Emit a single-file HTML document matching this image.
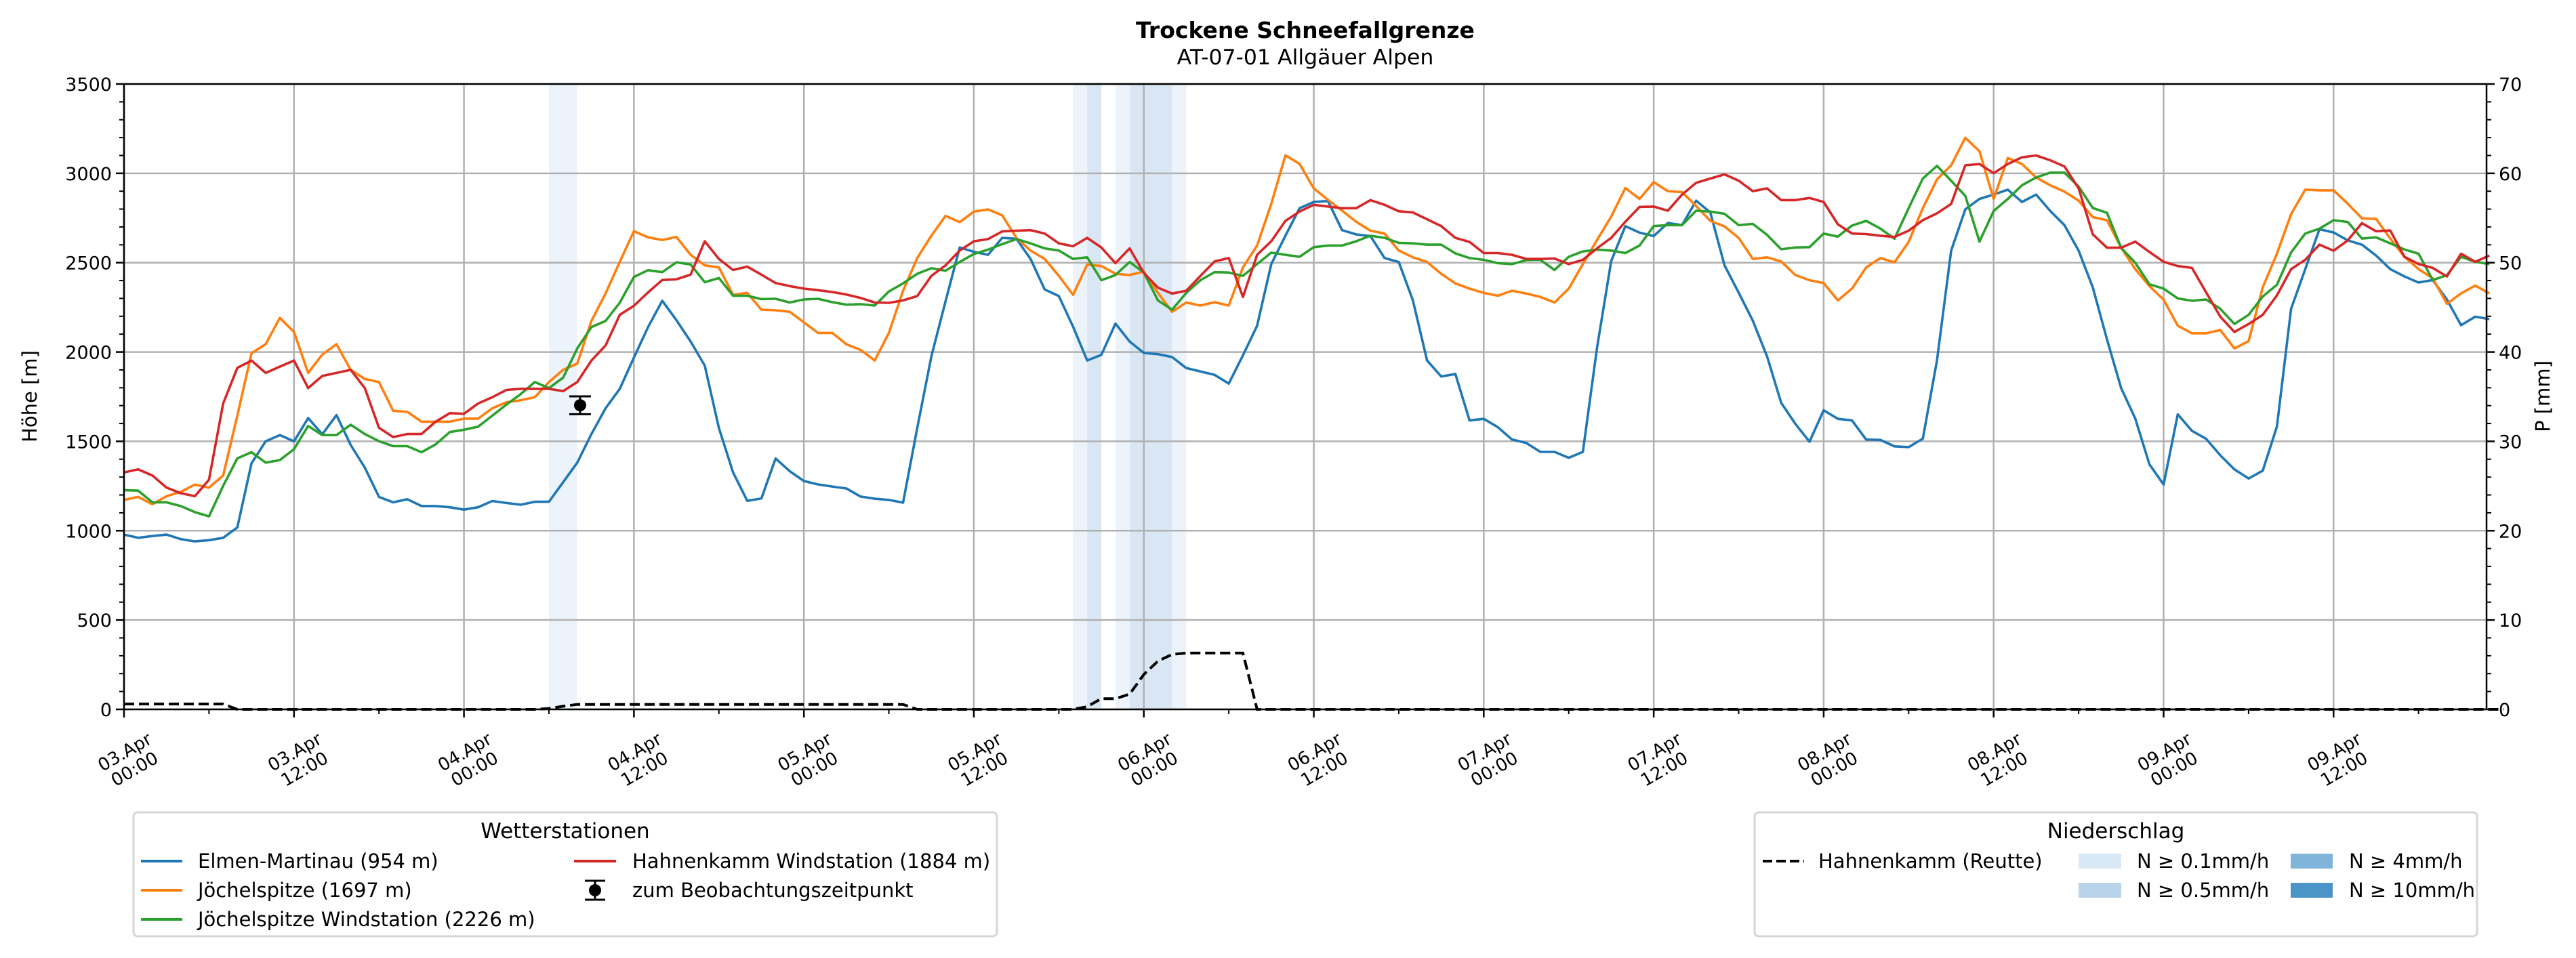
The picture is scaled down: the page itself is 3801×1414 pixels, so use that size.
<!DOCTYPE html>
<html><head><meta charset="utf-8"><style>
body{margin:0;background:#fff}
svg{display:block;font-family:"DejaVu Sans","Liberation Sans",sans-serif}
</style></head><body>
<svg id="chart" width="3801" height="1414" viewBox="0 0 3801 1414" xmlns="http://www.w3.org/2000/svg">
<text x="1926" y="56" text-anchor="middle" font-size="33" font-weight="bold">Trockene Schneefallgrenze</text>
<text x="1926" y="95" text-anchor="middle" font-size="31.5">AT-07-01 Allgäuer Alpen</text>
<g id="bands"></g>
<g id="grid"></g>
<g id="series"></g>
<g id="axes"></g>
<text transform="translate(54,585) rotate(-90)" text-anchor="middle" font-size="29">Höhe [m]</text>
<text transform="translate(3762,585) rotate(-90)" text-anchor="middle" font-size="29">P [mm]</text>

<g>
<rect x="197" y="1199" width="1274" height="183" rx="6" fill="#fff" stroke="#d6d6d6" stroke-width="3"/>
<text x="834" y="1237" text-anchor="middle" font-size="31">Wetterstationen</text>
<g><line x1="208" y1="1271" x2="269" y2="1271" stroke="#1f77b4" stroke-width="4"/><text x="292" y="1281" font-size="29">Elmen-Martinau (954 m)</text></g>
<g><line x1="208" y1="1314" x2="269" y2="1314" stroke="#ff7f0e" stroke-width="4"/><text x="292" y="1324" font-size="29">Jöchelspitze (1697 m)</text></g>
<g><line x1="208" y1="1357" x2="269" y2="1357" stroke="#2ca02c" stroke-width="4"/><text x="292" y="1367" font-size="29">Jöchelspitze Windstation (2226 m)</text></g>
<g><line x1="847" y1="1271" x2="909" y2="1271" stroke="#d62728" stroke-width="4"/><text x="933" y="1281" font-size="29">Hahnenkamm Windstation (1884 m)</text></g>
<g><line x1="878" y1="1300" x2="878" y2="1328" stroke="#000" stroke-width="3"/><line x1="863" y1="1300" x2="893" y2="1300" stroke="#000" stroke-width="3"/><line x1="863" y1="1328" x2="893" y2="1328" stroke="#000" stroke-width="3"/><circle cx="878" cy="1314" r="9"/><text x="933" y="1324" font-size="29">zum Beobachtungszeitpunkt</text></g>
</g>

<g>
<rect x="2589" y="1199" width="1066" height="183" rx="6" fill="#fff" stroke="#d6d6d6" stroke-width="3"/>
<text x="3122" y="1237" text-anchor="middle" font-size="31">Niederschlag</text>
<g><line x1="2601" y1="1271" x2="2662" y2="1271" stroke="#000" stroke-width="4" stroke-dasharray="14,6"/><text x="2683" y="1281" font-size="29">Hahnenkamm (Reutte)</text></g>
<g><rect x="3067" y="1260" width="63" height="22" fill="#d9e8f5"/><text x="3153" y="1281" font-size="29">N ≥ 0.1mm/h</text></g>
<g><rect x="3067" y="1303" width="63" height="22" fill="#b8d3ea"/><text x="3153" y="1324" font-size="29">N ≥ 0.5mm/h</text></g>
<g><rect x="3380" y="1260" width="62" height="22" fill="#80b5d9"/><text x="3466" y="1281" font-size="29">N ≥ 4mm/h</text></g>
<g><rect x="3380" y="1303" width="62" height="22" fill="#4a94c8"/><text x="3466" y="1324" font-size="29">N ≥ 10mm/h</text></g>
</g>
</svg>
<script>
const elmen=[978,960,970,978,953,940,947,960,1018,1377,1500,1535,1500,1630,1540,1647,1480,1353,1189,1159,1176,1138,1138,1131,1118,1131,1166,1155,1145,1162,1162,1271,1381,1541,1685,1794,1969,2140,2287,
2178,2059,1924,1574,1326,1167,1181,1404,1333,1278,1259,1247,1236,1191,1179,1172,1157,1574,1976,2284,2585,2561,2544,2639,2634,2521,2350,2313,2142,1953,1984,2159,2059,1995,1988,1972,1910,1891,1872,1823,1981,2147,2492,2651,2805,2840,
2845,2682,2658,2649,2526,2504,2289,1953,1863,1877,1617,1626,1579,1510,1491,1441,1441,1408,1441,2024,2509,2705,2668,2649,2722,2710,2847,2781,2485,2332,2175,1976,1716,1598,1498,1674,1626,1617,1510,1508,1472,1468,1515,1953,
2567,2799,2857,2881,2909,2840,2881,2789,2710,2567,2362,2071,1798,1627,1371,1258,1651,1559,1514,1422,1343,1292,1336,1583,2242,2464,2687,2669,2625,2601,2540,2464,2423,2389,2403,2294,2150,2198,2184];
const joechel=[1172,1189,1148,1193,1217,1258,1241,1309,1644,1993,2044,2191,2112,1883,1986,2044,1900,1849,1832,1671,1665,1610,1610,1610,1627,1627,1685,1719,1730,1747,1832,1900,1935,2174,2328,2505,2676,2642,2627,
2644,2544,2485,2473,2320,2331,2237,2234,2225,2166,2107,2107,2043,2012,1953,2107,2343,2526,2651,2762,2727,2786,2798,2765,2639,2568,2521,2426,2320,2490,2481,2438,2431,2450,2331,2225,2277,2260,2279,2260,2473,2596,2829,3101,3053,2916,
2852,2791,2729,2679,2663,2568,2530,2504,2438,2384,2355,2331,2315,2343,2327,2308,2277,2355,2492,2627,2758,2918,2857,2951,2900,2895,2817,2734,2703,2639,2521,2530,2507,2431,2402,2386,2289,2355,2473,2526,2502,2616,2805,2966,
3045,3199,3124,2857,3086,3052,2977,2933,2898,2847,2755,2738,2584,2464,2369,2293,2147,2105,2105,2123,2020,2061,2362,2550,2772,2909,2905,2905,2830,2748,2745,2635,2533,2464,2413,2270,2328,2372,2328];
const joechelWind=[1227,1224,1159,1159,1138,1104,1080,1251,1405,1439,1381,1395,1456,1586,1535,1535,1593,1541,1501,1473,1473,1439,1483,1552,1565,1582,1644,1706,1764,1832,1798,1856,2020,2140,2174,2276,2420,2458,2447,
2502,2490,2391,2414,2315,2315,2296,2298,2277,2294,2298,2279,2265,2268,2260,2339,2384,2438,2469,2455,2504,2549,2573,2604,2632,2608,2580,2568,2521,2530,2402,2431,2504,2445,2289,2237,2331,2402,2447,2445,2426,2492,2556,2544,2533,2587,
2596,2596,2620,2651,2639,2611,2608,2601,2601,2552,2526,2516,2497,2492,2514,2516,2459,2533,2563,2573,2568,2554,2596,2705,2710,2710,2791,2786,2774,2710,2717,2656,2575,2585,2587,2663,2646,2708,2734,2691,2634,2805,2971,3042,
2959,2874,2618,2789,2857,2933,2977,3004,3004,2926,2806,2779,2584,2499,2379,2355,2300,2287,2294,2242,2157,2208,2311,2376,2557,2663,2690,2738,2728,2635,2642,2608,2574,2550,2403,2430,2533,2505,2492];
const hahnWind=[1326,1343,1309,1241,1210,1193,1285,1712,1911,1952,1883,1918,1952,1798,1866,1883,1900,1798,1576,1524,1541,1541,1610,1658,1654,1712,1747,1788,1794,1794,1794,1781,1832,1952,2037,2208,2259,2334,2403,
2407,2433,2620,2521,2459,2478,2433,2386,2369,2355,2346,2336,2322,2303,2277,2275,2289,2313,2426,2485,2568,2620,2632,2675,2679,2682,2663,2608,2592,2639,2585,2497,2580,2443,2360,2327,2343,2426,2507,2526,2308,2544,2620,2734,2786,2824,
2814,2805,2805,2850,2824,2788,2781,2743,2705,2639,2616,2554,2554,2544,2521,2521,2523,2492,2516,2580,2639,2729,2812,2814,2791,2881,2947,2971,2994,2959,2900,2916,2850,2850,2862,2840,2715,2663,2660,2651,2644,2679,2738,2776,
2829,3045,3052,3001,3052,3090,3100,3073,3039,2916,2659,2584,2584,2618,2560,2505,2481,2471,2334,2198,2112,2157,2208,2317,2464,2516,2601,2567,2625,2721,2676,2680,2533,2492,2471,2423,2550,2505,2540];
const precipMM=[0.6,0.6,0.6,0.6,0.6,0.6,0.6,0.6,0,0,0,0,0,0,0,0,0,0,0,0,0,0,0,0,0,0,0,0,0,0,
0.1,0.35,0.55,0.55,0.55,0.55,0.55,0.55,0.55,0.55,0.55,0.55,0.55,0.55,0.55,0.55,0.55,0.55,0.55,0.55,0.55,0.55,0.55,0.55,0.55,0.55,
0,0,0,0,0,0,0,0,0,0,0,0,0.3,1.2,1.2,1.7,3.9,5.4,6.15,6.3,6.3,6.3,6.3,6.3,
0,0,0,0,0,0,0,0,0,0,0,0,0,0,0,0,0,0,0,0,0,0,0,0,0,0,0,0,0,0,0,0,0,0,0,0,0,0,0,0,0,0,0,0,0,0,0,0,0,0,0,0,0,0,0,0,0,0,0,0,0,0,0,0,0,0,0,0,0,0,0,0,0,0,0,0,0,0,0,0,0,0,0,0,0,0,0,0,0];
const bandStart=[30,67,68,70,71,74];
const bandEnd=[32,68,69,71,74,75];
const bandLevel=[0,0,1,0,1,0];
const obsHour=[32.2];
const obsValue=[1702];
const obsErr=[50];
const yTicks=[0,500,1000,1500,2000,2500,3000,3500];
const y2Ticks=[0,10,20,30,40,50,60,70];
const xTickHours=[0,12,24,36,48,60,72,84,96,108,120,132,144,156];
const xTickLine1=["03.Apr","03.Apr","04.Apr","04.Apr","05.Apr","05.Apr","06.Apr","06.Apr","07.Apr","07.Apr","08.Apr","08.Apr","09.Apr","09.Apr"];
const xTickLine2=["00:00","12:00","00:00","12:00","00:00","12:00","00:00","12:00","00:00","12:00","00:00","12:00","00:00","12:00"];

const NS="http://www.w3.org/2000/svg";
const L=183,R=3669,T=124,B=1047,HMAX=166.8;
const xs=h=>L+(R-L)*h/HMAX;
const ys=v=>B-(B-T)*v/3500;
const y2s=v=>B-(B-T)*v/70;
function mk(tag,attrs,parent){const e=document.createElementNS(NS,tag);for(const k in attrs)e.setAttribute(k,attrs[k]);parent.appendChild(e);return e;}
const gB=document.getElementById('bands'),gG=document.getElementById('grid'),gS=document.getElementById('series'),gA=document.getElementById('axes');
const bandColors=['#edf3fb','#d9e7f4'];
bandStart.forEach((s,i)=>{const r=mk('rect',{x:xs(s),y:T,width:xs(bandEnd[i])-xs(s),height:B-T,fill:bandColors[bandLevel[i]]},gB);

});
yTicks.forEach(v=>{mk('line',{x1:L,x2:R,y1:ys(v),y2:ys(v),stroke:'#b0b0b0','stroke-width':2.5},gG);});
xTickHours.forEach(h=>{mk('line',{x1:xs(h),x2:xs(h),y1:T,y2:B,stroke:'#b0b0b0','stroke-width':2.5},gG);});
function line(arr,color,name){let d='';arr.forEach((v,i)=>{d+=(i?'L':'M')+xs(i).toFixed(1)+','+ys(v).toFixed(1);});
const p=mk('path',{d:d,fill:'none',stroke:color,'stroke-width':3.6,'stroke-linejoin':'round'},gS);

}
line(elmen,'#1f77b4','line-elmen-martinau');
line(joechel,'#ff7f0e','line-joechelspitze');
line(joechelWind,'#2ca02c','line-joechelspitze-wind');
line(hahnWind,'#d62728','line-hahnenkamm-wind');
let dp='';precipMM.forEach((v,i)=>{dp+=(i?'L':'M')+xs(i).toFixed(1)+','+y2s(v).toFixed(1);});
const pp=mk('path',{d:dp,fill:'none',stroke:'#000','stroke-width':4,'stroke-dasharray':'15,7'},gS);


obsHour.forEach((h,i)=>{const g=mk('g',{},gS);


const x=xs(h),y0=ys(obsValue[i]-obsErr[i]),y1=ys(obsValue[i]+obsErr[i]);
mk('line',{x1:x,x2:x,y1:y0,y2:y1,stroke:'#000','stroke-width':3},g);
mk('line',{x1:x-16,x2:x+16,y1:y0,y2:y0,stroke:'#000','stroke-width':3},g);
mk('line',{x1:x-16,x2:x+16,y1:y1,y2:y1,stroke:'#000','stroke-width':3},g);
mk('circle',{cx:x,cy:ys(obsValue[i]),r:9,fill:'#000'},g);});
mk('rect',{x:L,y:T,width:R-L,height:B-T,fill:'none',stroke:'#000','stroke-width':2.5},gA);
for(let v=0;v<=3500;v+=100){const maj=v%500===0;mk('line',{x1:L,x2:L-(maj?12:7),y1:ys(v),y2:ys(v),stroke:'#000','stroke-width':maj?2.5:2},gA);}
for(let v=0;v<=70;v+=2){const maj=v%10===0;mk('line',{x1:R,x2:R+(maj?12:7),y1:y2s(v),y2:y2s(v),stroke:'#000','stroke-width':maj?2.5:2},gA);}
for(let h=0;h<=HMAX;h+=6){const maj=h%12===0;mk('line',{x1:xs(h),x2:xs(h),y1:B,y2:B+(maj?12:7),stroke:'#000','stroke-width':maj?2.5:2},gA);}
yTicks.forEach(v=>{const t=mk('text',{x:L-18,y:ys(v)+10,'text-anchor':'end','font-size':27},gA);t.textContent=v;

});
y2Ticks.forEach(v=>{const t=mk('text',{x:R+18,y:y2s(v)+10,'text-anchor':'start','font-size':27},gA);t.textContent=v;

});
xTickHours.forEach((h,i)=>{const t=mk('text',{transform:'translate('+(xs(h)+8)+',1122) rotate(-30)','text-anchor':'middle','font-size':26},gA);


const a=mk('tspan',{x:0,y:-5},t);a.textContent=xTickLine1[i];
const b=mk('tspan',{x:0,y:24},t);b.textContent=xTickLine2[i];});
</script>
</body></html>
